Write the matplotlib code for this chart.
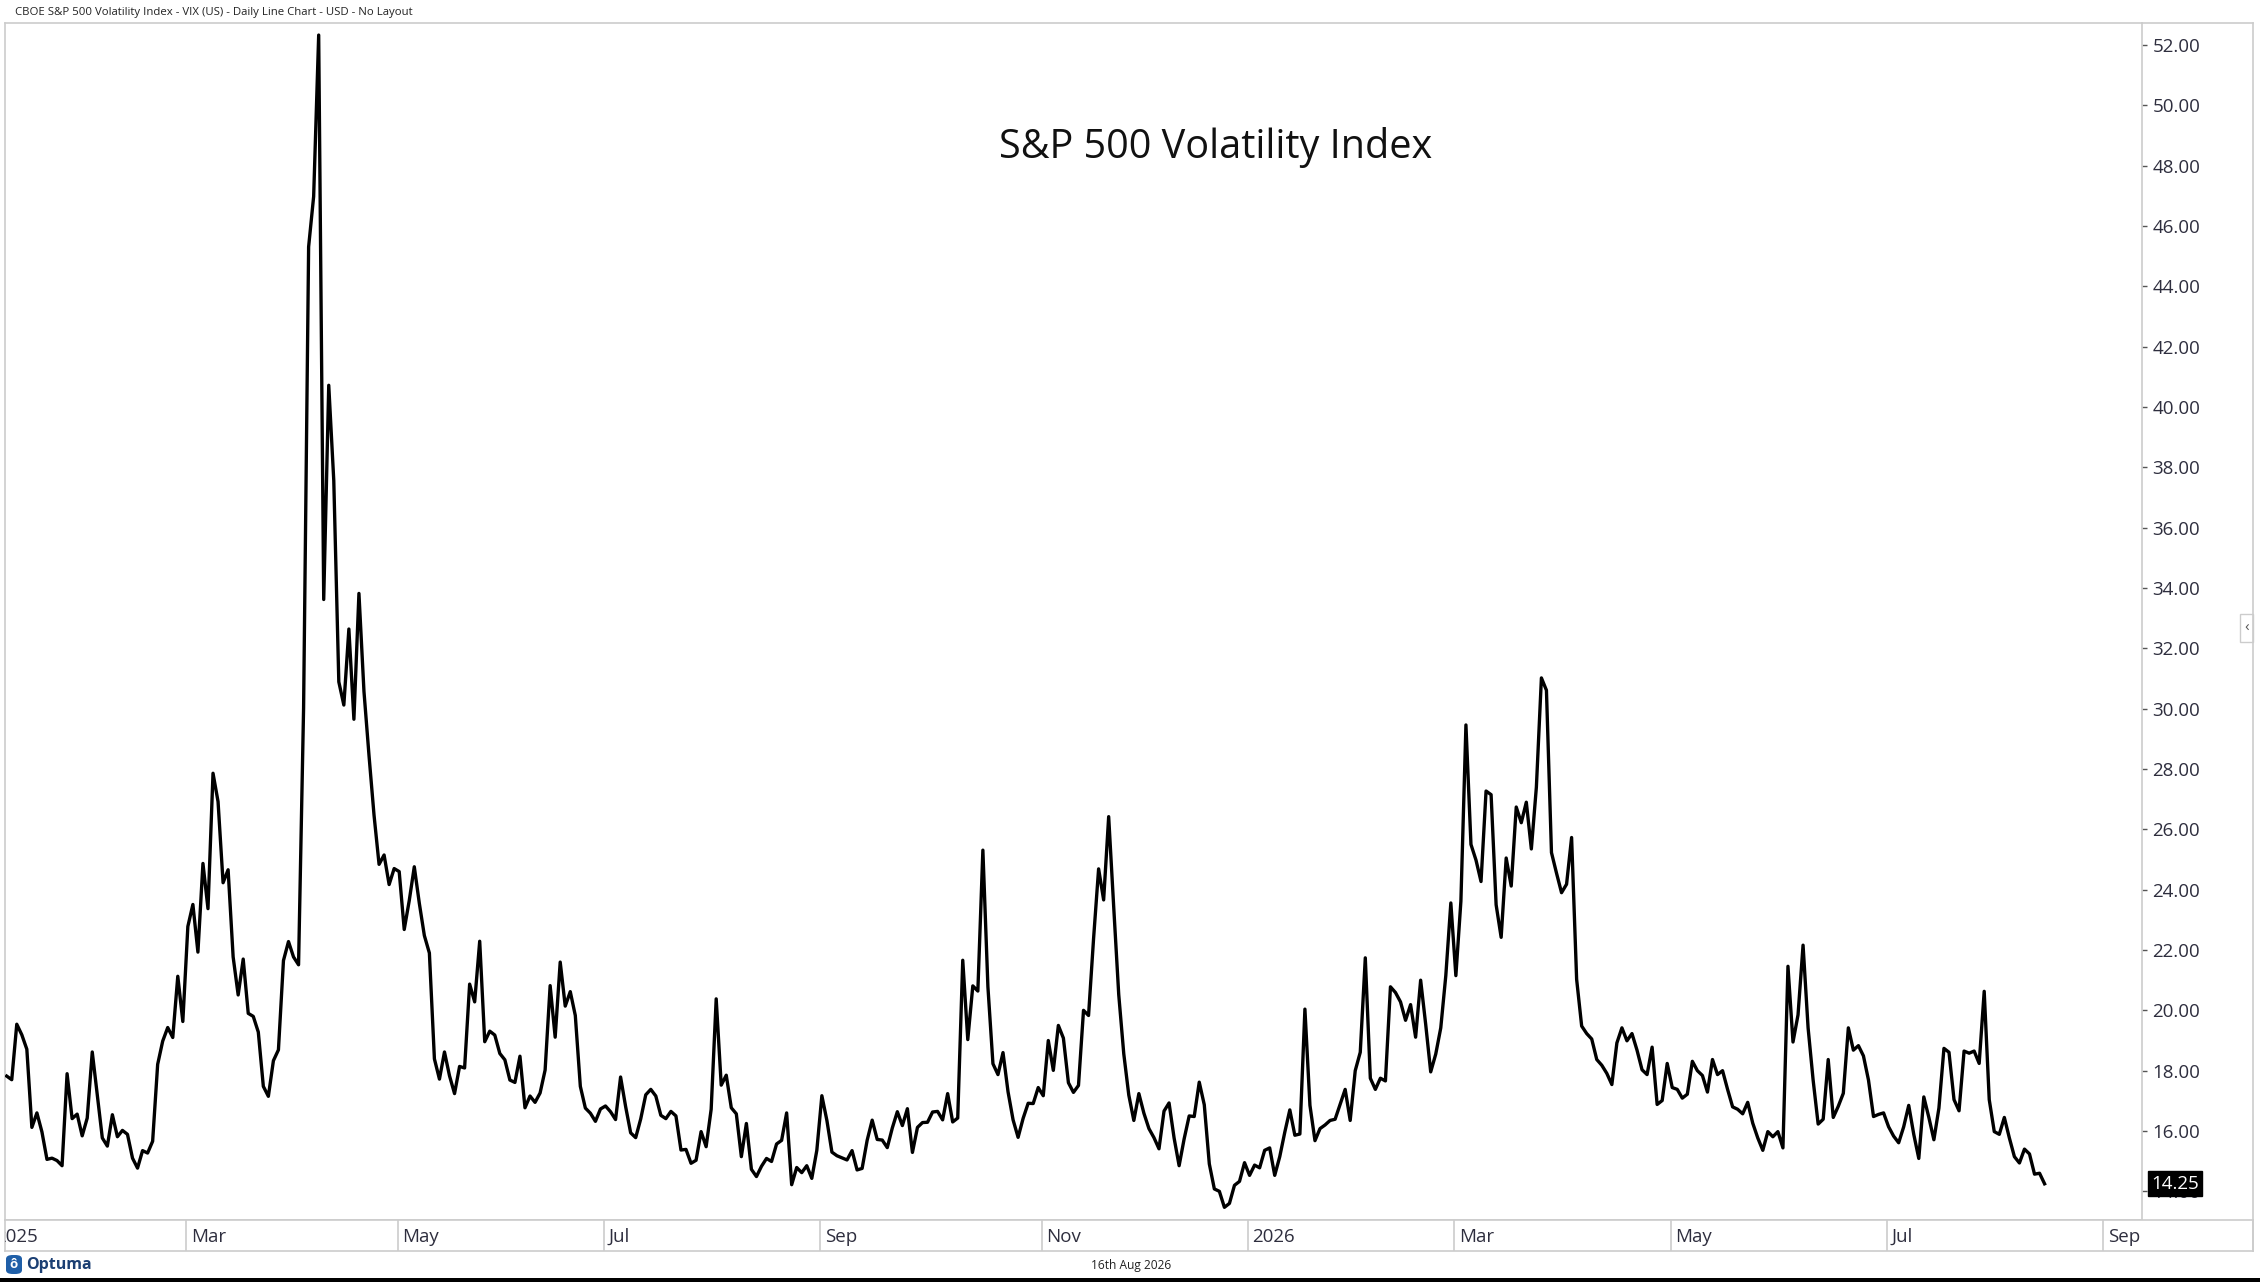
import numpy as np
import pandas as pd
import matplotlib
matplotlib.use("Agg")
import matplotlib.pyplot as plt
from matplotlib.patches import Rectangle, FancyBboxPatch
from matplotlib.lines import Line2D
import matplotlib.transforms as mtransforms

plt.rcParams['font.family'] = ['Open Sans', 'DejaVu Sans']

# ---------------- data ----------------
# VIX daily closes, 7 Jan 2025 - 31 Dec 2025 (trading days)
vix_2025 = [
    # Jan
    17.82, 17.70, 19.54, 19.19, 18.71, 16.12, 16.60, 15.97, 15.06, 15.10, 15.02, 14.85, 17.90, 16.41, 16.56, 15.84, 16.43,
    # Feb
    18.62, 17.21, 15.77, 15.50, 16.54, 15.81, 16.02, 15.89, 15.10, 14.77, 15.35, 15.27, 15.66, 18.21, 18.98, 19.43, 19.10, 21.13, 19.63,
    # Mar
    22.78, 23.51, 21.93, 24.87, 23.37, 27.86, 26.92, 24.23, 24.66, 21.77, 20.51, 21.70, 19.90, 19.80, 19.28, 17.48, 17.15, 18.33, 18.69, 21.65, 22.28,
    # Apr
    21.77, 21.51, 30.02, 45.31, 46.98, 52.33, 33.62, 40.72, 37.56, 30.89, 30.12, 32.64, 29.65, 33.82, 30.57, 28.45, 26.47, 24.84, 25.15, 24.17, 24.70,
    # May
    24.60, 22.68, 23.64, 24.76, 23.55, 22.48, 21.90, 18.39, 17.72, 18.62, 17.83, 17.24, 18.14, 18.09, 20.87, 20.28, 22.29, 18.96, 19.31, 19.18, 18.57,
    # Jun
    18.36, 17.69, 17.61, 18.48, 16.77, 17.16, 16.95, 17.26, 18.02, 20.82, 19.11, 21.60, 20.14, 20.62, 19.83, 17.48, 16.76, 16.59, 16.32, 16.73,
    # Jul
    16.83, 16.64, 16.38, 17.79, 16.81, 15.94, 15.78, 16.40, 17.20, 17.38, 17.16, 16.52, 16.41, 16.65, 16.50, 15.37, 15.39, 14.93, 15.03, 15.98, 15.48, 16.72,
    # Aug
    20.38, 17.52, 17.85, 16.77, 16.57, 15.15, 16.25, 14.73, 14.49, 14.83, 15.09, 14.99, 15.57, 15.69, 16.60, 14.22, 14.79, 14.62, 14.85, 14.43, 15.36,
    # Sep
    17.17, 16.35, 15.30, 15.18, 15.11, 15.04, 15.35, 14.71, 14.76, 15.69, 16.36, 15.72, 15.70, 15.45, 16.10, 16.64, 16.18, 16.74, 15.29, 16.12, 16.28,
    # Oct
    16.29, 16.63, 16.65, 16.37, 17.24, 16.30, 16.43, 21.66, 19.03, 20.81, 20.64, 25.31, 20.78, 18.23, 17.87, 18.60, 17.30, 16.37, 15.79, 16.42, 16.92, 16.91, 17.44,
    # Nov
    17.17, 19.00, 18.01, 19.50, 19.08, 17.60, 17.28, 17.51, 20.00, 19.83, 22.38, 24.69, 23.66, 26.42, 23.43, 20.52, 18.56, 17.19, 16.35,
    # Dec
    17.24, 16.59, 16.08, 15.78, 15.41, 16.66, 16.93, 15.77, 14.85, 15.74, 16.50, 16.48, 17.62, 16.87, 14.91, 14.08, 14.00, 13.47, 13.60, 14.20, 14.33, 14.95,
]

# VIX daily closes, 2 Jan 2026 - 14 Aug 2026
vix_2026 = [
    14.53, 14.87, 14.78, 15.36, 15.44, 14.53, 15.15, 15.96, 16.70, 15.86, 15.90, 20.04, 16.85, 15.68,
    16.08, 16.20, 16.35, 16.39, 16.88, 17.38, 16.35, 18.00, 18.61, 21.74, 17.75, 17.38, 17.75, 17.66,
    20.78, 20.59, 20.28, 19.67, 20.19, 19.11, 21.00, 19.54, 17.96, 18.55, 19.42, 21.15, 23.56, 21.15,
    23.62, 29.46, 25.50, 24.98, 24.27, 27.27, 27.15, 23.50, 22.42, 25.05,
    24.12, 26.74, 26.22, 26.90, 25.35, 27.40, 31.02, 30.61, 25.23, 24.55, 23.90, 24.18, 25.73, 21.03,
    19.48, 19.23, 19.05, 18.37, 18.18, 17.91, 17.54, 18.92, 19.42, 18.99, 19.23, 18.68, 18.03, 17.87,
    18.78, 16.88, 17.01, 18.24, 17.44, 17.38, 17.09, 17.22, 18.31,
    18.00, 17.84, 17.29, 18.37, 17.87, 18.00, 17.38, 16.80, 16.72, 16.57, 16.95, 16.26, 15.77, 15.36,
    15.98, 15.81, 15.98, 15.44, 21.46, 18.95, 19.85, 22.16, 19.42, 17.69, 16.23, 16.39, 18.37, 16.45,
    16.82, 17.25, 19.42, 18.68, 18.83, 18.49, 17.69, 16.48, 16.55,
    16.60, 16.14, 15.83, 15.61, 16.14, 16.85, 15.89, 15.09, 17.13, 16.45, 15.71, 16.76, 18.74, 18.61,
    17.04, 16.67, 18.65, 18.58, 18.65, 18.24, 20.63, 17.04, 15.98, 15.89, 16.45, 15.77, 15.15, 14.94,
    15.40, 15.24, 14.57, 14.60, 14.25,
]

y_ticks = np.arange(14, 53, 2)
month_abbr = ['Jan', 'Feb', 'Mar', 'Apr', 'May', 'Jun', 'Jul', 'Aug', 'Sep', 'Oct', 'Nov', 'Dec']
header_text = "CBOE S&P 500 Volatility Index - VIX (US) - Daily Line Chart - USD - No Layout"
title_text = "S&P 500 Volatility Index"
footer_date = "16th Aug 2026"

# trading calendar (x axis is a bar-index axis, no gaps)
closed_2025 = pd.to_datetime(['2025-01-09', '2025-01-20', '2025-02-17', '2025-04-18', '2025-05-26',
                              '2025-06-19', '2025-07-04', '2025-09-01', '2025-11-27', '2025-12-25'])
closed_2026 = pd.to_datetime(['2026-04-03', '2026-07-03'])
cal_2025 = pd.bdate_range('2025-01-02', '2025-12-31').difference(closed_2025)
cal_2026 = pd.bdate_range('2026-01-02', '2026-09-30').difference(closed_2026)
cal = cal_2025.append(cal_2026)

values = np.array(vix_2025 + vix_2026)
start = cal.get_loc(pd.Timestamp('2025-01-07'))
x = start + np.arange(len(values))

# month starts
mdf = pd.DataFrame({'d': cal, 'i': np.arange(len(cal))})
mdf['ym'] = mdf['d'].dt.to_period('M')
firsts = mdf.groupby('ym').first()
firsts = firsts[firsts['d'].dt.month % 2 == 1]

# ---------------- figure ----------------
W, H = 2260, 1282
fig = plt.figure(figsize=(W / 100, H / 100), dpi=100)
fig.patch.set_facecolor('white')

def fx(px):
    return px / W

def fy(py):
    return 1 - py / H

L, R, T, B = 5, 2142, 23, 1220
ax = fig.add_axes([fx(L), fy(B), fx(R - L), fy(T) - fy(B)])
ax.plot(x, values, color='black', lw=2.4, solid_joinstyle='round', zorder=3)

x_left = start - 0.34
units = 424.7
ax.set_xlim(x_left, x_left + units)
ax.set_ylim(13.05, 52.73)
ppu = (R - L) / units

ax.set_xticks([])
ax.yaxis.tick_right()
ax.set_yticks(y_ticks)
ax.set_yticklabels([f'{v:.2f}' for v in y_ticks])
ax.tick_params(axis='y', direction='out', length=3.5, width=1, color='#555555',
               pad=4, labelsize=13.5, labelcolor='#2e2e3e')
for s in ax.spines.values():
    s.set_color('#cccccc')
    s.set_linewidth(1.2)

# current value box
trans = mtransforms.blended_transform_factory(ax.transAxes, ax.transData)
ax.text(1 + 9 / (R - L), values[-1], f'{values[-1]:.2f}', transform=trans,
        ha='left', va='center', color='white', fontsize=13.5, zorder=10, clip_on=False,
        bbox=dict(facecolor='black', edgecolor='black', boxstyle='square,pad=0.18'))

# title
fig.text(fx(1216), fy(147), title_text, ha='center', va='center', fontsize=28.5, color='#111111')

# bottom date band
BL, BR, BT, BB = 5, 2253, 1220, 1251
axb = fig.add_axes([fx(BL), fy(BB), fx(BR - BL), fy(BT) - fy(BB)])
axb.set_xlim(x_left, x_left + (BR - BL) / ppu)
axb.set_ylim(0, 1)
axb.set_xticks([])
axb.set_yticks([])
for s in axb.spines.values():
    s.set_color('#cccccc')
    s.set_linewidth(1.2)
for d, row in firsts.iterrows():
    i = row['i']
    m = row['d'].month
    lab = str(row['d'].year) if m == 1 else month_abbr[m - 1]
    axb.axvline(i - 0.3, color='#cccccc', lw=1.2)
    axb.text(i + 0.6, 0.45, lab, ha='left', va='center', fontsize=13.5, color='#2e2e3e', clip_on=True)

# outer right panel border
fig.add_artist(Line2D([fx(R), fx(2253)], [fy(T), fy(T)], color='#cccccc', lw=1.2))
fig.add_artist(Line2D([fx(2253), fx(2253)], [fy(T), fy(BB)], color='#cccccc', lw=1.2))

# collapse tab
fig.add_artist(Rectangle((fx(2240), fy(642)), fx(13), fy(614) - fy(642), facecolor='white',
                         edgecolor='#cccccc', lw=1))
fig.text(fx(2246.5), fy(628), '‹', ha='center', va='center', fontsize=11, color='#555555')

# header
fig.text(fx(15), fy(12), header_text, ha='left', va='center', fontsize=8.2, color='#222222')

# footer
fig.text(fx(1131), fy(1265), footer_date, ha='center', va='center', fontsize=8.6, color='#222222')
fig.add_artist(FancyBboxPatch((fx(6), fy(1274)), fx(16), fy(1255) - fy(1274),
                              boxstyle='round,pad=0,rounding_size=0.003', facecolor='#1f5fa8',
                              edgecolor='none'))
fig.text(fx(14), fy(1265), 'ô', ha='center', va='center', fontsize=9.5, color='white', fontweight='bold')
fig.text(fx(26), fy(1265), 'Optuma', ha='left', va='center', fontsize=11.5, color='#1b3f73',
         fontweight='bold')

# bottom black strip
fig.add_artist(Rectangle((0, 0), 1, 4 / H, facecolor='black', edgecolor='none'))

fig.savefig('out.png', dpi=100, facecolor='white')
